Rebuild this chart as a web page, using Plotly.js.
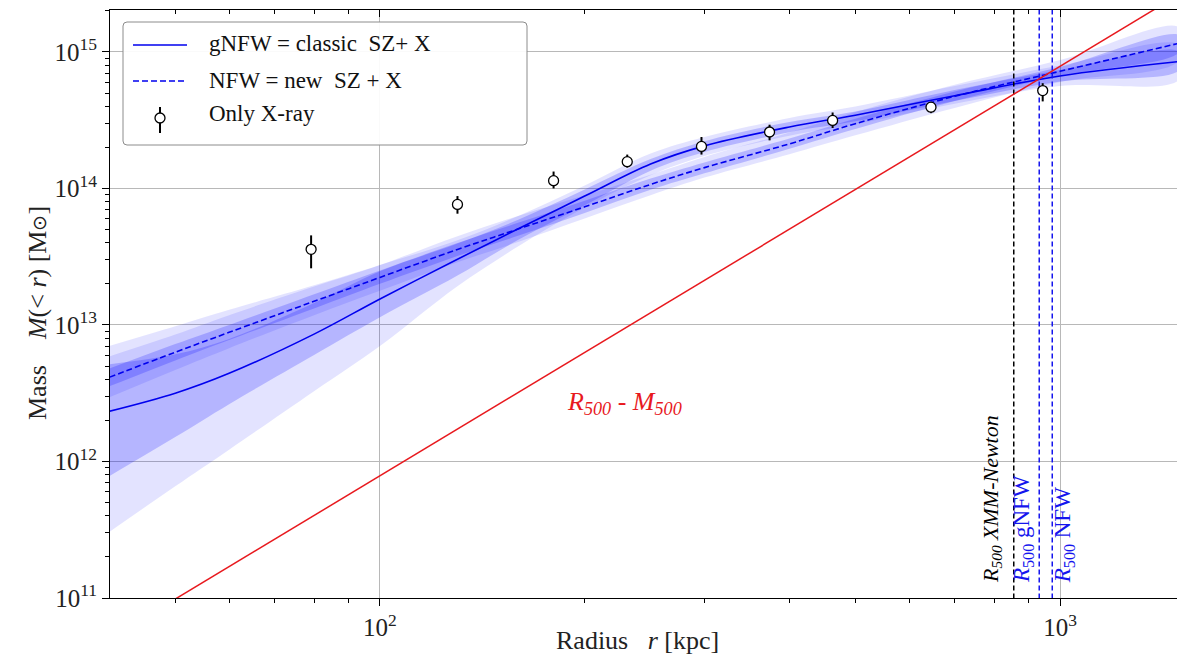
<!DOCTYPE html>
<html><head><meta charset="utf-8">
<script src="https://cdn.plot.ly/plotly-3.0.1.min.js"></script>
<style>html,body{margin:0;padding:0;background:#fff}#chart{width:1177px;height:658px}</style>
</head><body><div id="chart"></div>
<script>
// radius grid [kpc]
const radius = [40, 50, 60, 80, 100, 130, 160, 200, 250, 300, 400, 500, 700, 1000, 1500];

// gNFW (classic SZ + X) mass profile [Msun]
const gnfwMass    = [2.33e12, 3.16e12, 4.42e12, 8.57e12, 1.55e13, 3.03e13, 5.08e13, 8.79e13, 1.51e14, 2.05e14, 2.82e14, 3.44e14, 4.78e14, 6.67e14, 8.51e14];
const gnfwUp68    = [5.15e12, 6.10e12, 7.90e12, 1.45e13, 2.47e13, 3.95e13, 5.92e13, 9.82e13, 1.64e14, 2.22e14, 3.06e14, 3.66e14, 5.25e14, 7.38e14, 1.00e15];
const gnfwLow68   = [7.82e11, 1.51e12, 2.63e12, 6.03e12, 1.14e13, 2.30e13, 4.23e13, 7.53e13, 1.35e14, 1.85e14, 2.58e14, 3.10e14, 4.37e14, 6.07e14, 7.38e14];
const gnfwUp95    = [7.01e12, 9.77e12, 1.29e13, 1.95e13, 2.75e13, 4.17e13, 6.31e13, 1.05e14, 1.80e14, 2.38e14, 3.28e14, 3.98e14, 5.62e14, 7.94e14, 1.12e15];
const gnfwLow95   = [3.05e11, 6.58e11, 1.22e12, 3.27e12, 7.01e12, 1.92e13, 3.78e13, 7.24e13, 1.25e14, 1.73e14, 2.43e14, 2.95e14, 4.17e14, 5.62e14, 6.31e14];

// NFW (new SZ + X) mass profile [Msun]
const nfwMass     = [4.14e12, 6.31e12, 8.83e12, 1.49e13, 2.23e13, 3.57e13, 5.06e13, 7.33e13, 1.07e14, 1.42e14, 2.12e14, 2.98e14, 4.73e14, 7.21e14, 1.16e15];
const nfwUp68     = [4.79e12, 7.24e12, 1.00e13, 1.68e13, 2.51e13, 3.98e13, 5.62e13, 8.13e13, 1.18e14, 1.55e14, 2.32e14, 3.24e14, 5.13e14, 7.76e14, 1.32e15];
const nfwLow68    = [3.55e12, 5.50e12, 7.76e12, 1.32e13, 2.00e13, 3.20e13, 4.52e13, 6.61e13, 9.77e13, 1.29e14, 1.95e14, 2.72e14, 4.37e14, 6.68e14, 1.00e15];
const nfwUp95     = [5.89e12, 8.51e12, 1.18e13, 1.91e13, 2.75e13, 4.47e13, 6.31e13, 8.91e13, 1.26e14, 1.70e14, 2.57e14, 3.63e14, 5.75e14, 8.71e14, 1.51e15];
const nfwLow95    = [2.95e12, 4.68e12, 6.76e12, 1.18e13, 1.78e13, 2.88e13, 4.07e13, 6.03e13, 8.91e13, 1.20e14, 1.78e14, 2.45e14, 3.89e14, 6.03e14, 8.71e14];

// Only X-ray points
const xrayRadius   = [79.2, 130, 180, 231, 297, 374, 463, 646, 943];
const xrayMass     = [3.58e13, 7.64e13, 1.14e14, 1.57e14, 2.03e14, 2.59e14, 3.15e14, 3.94e14, 5.21e14];
const xrayErrPlus  = [0.95e13, 1.15e13, 0.19e14, 0.20e14, 0.35e14, 0.34e14, 0.45e14, 0.28e14, 0.69e14];
const xrayErrMinus = [0.98e13, 1.11e13, 0.14e14, 0.15e14, 0.26e14, 0.34e14, 0.38e14, 0.38e14, 0.87e14];

// R500 - M500 relation (red line)
const relRadius = [40, 1500];
const relMass   = [5.03e10, 2.65e15];

// R500 markers [kpc]
const r500Xmm  = 855;
const r500Gnfw = 932;
const r500Nfw  = 974;

// tick labels
const xTickVals = [100, 1000];
const xTickText = ['10<sup>2</sup>', '10<sup>3</sup>'];
const yTickVals = [1e11, 1e12, 1e13, 1e14, 1e15];
const yTickText = ['10<sup>11</sup>', '10<sup>12</sup>', '10<sup>13</sup>', '10<sup>14</sup>', '10<sup>15</sup>'];

// legend labels
const legendLabels = ['gNFW = classic&nbsp;&nbsp;SZ+ X', 'NFW = new&nbsp;&nbsp;SZ + X', 'Only X-ray'];

const SERIF = 'Liberation Serif, Times New Roman, serif';
const BLUE = '#0000ee';
const VBLUE = '#1515ee';
const RED = '#e8191e';

// plot area in pixels: x 110..1177, y 10..598
const px2x = px => (px - 110) / 1067;
const py2y = py => (598 - py) / 588;

function band(up, low, color) {
  return {
    x: radius.concat(radius.slice().reverse()),
    y: up.concat(low.slice().reverse()),
    type: 'scatter', mode: 'lines', fill: 'toself', fillcolor: color,
    line: {width: 0, shape: 'spline', smoothing: 1}, showlegend: false, hoverinfo: 'skip'
  };
}
function vline(xv, color) {
  return {x: [xv, xv], y: [1e10, 1e16], type: 'scatter', mode: 'lines',
    line: {color: color, width: 1.5, dash: '5px,3px'}, showlegend: false, hoverinfo: 'skip'};
}

const traces = [
  band(gnfwUp95, gnfwLow95, 'rgba(0,0,255,0.11)'),
  band(gnfwUp68, gnfwLow68, 'rgba(0,0,255,0.2)'),
  band(nfwUp95, nfwLow95, 'rgba(0,0,255,0.11)'),
  band(nfwUp68, nfwLow68, 'rgba(0,0,255,0.2)'),
  {x: radius, y: gnfwMass, type: 'scatter', mode: 'lines', name: 'gNFW',
   line: {color: BLUE, width: 1.6, shape: 'spline', smoothing: 1}},
  {x: radius, y: nfwMass, type: 'scatter', mode: 'lines', name: 'NFW',
   line: {color: BLUE, width: 1.6, dash: '6px,3px', shape: 'spline', smoothing: 1}},
  vline(r500Xmm, '#000000'),
  vline(r500Gnfw, VBLUE),
  vline(r500Nfw, VBLUE),
  {x: relRadius, y: relMass, type: 'scatter', mode: 'lines', line: {color: RED, width: 1.5}},
  {x: xrayRadius, y: xrayMass, type: 'scatter', mode: 'markers', name: 'Only X-ray',
   marker: {symbol: 'circle', size: 10, color: '#ffffff', line: {color: '#000000', width: 1.3}},
   error_y: {type: 'data', symmetric: false, array: xrayErrPlus, arrayminus: xrayErrMinus,
             color: '#000000', thickness: 2, width: 0}},
  {x: [], y: [], xaxis: 'x2', yaxis: 'y', type: 'scatter', hoverinfo: 'skip'}
];

const xRange = [1.603, 3.172];
const yRange = [11, 15.307];

// manual legend (box with rounded corners, samples, labels)
const L = px2x(123), R = px2x(527), T = py2y(22), B = py2y(145);
const rx = 4 / 1067, ry = 4 / 588;
const boxPath = `M ${L+rx},${T} L ${R-rx},${T} Q ${R},${T} ${R},${T-ry} L ${R},${B+ry} Q ${R},${B} ${R-rx},${B} ` +
                `L ${L+rx},${B} Q ${L},${B} ${L},${B+ry} L ${L},${T-ry} Q ${L},${T} ${L+rx},${T} Z`;

const shapes = [
  {type: 'path', xref: 'paper', yref: 'paper', path: boxPath, fillcolor: 'rgba(255,255,255,0.92)',
   line: {color: '#8c8c8c', width: 1}, layer: 'above'},
  {type: 'line', xref: 'paper', yref: 'paper', x0: px2x(133), x1: px2x(187), y0: py2y(45), y1: py2y(45),
   line: {color: BLUE, width: 1.6}, layer: 'above'},
  {type: 'line', xref: 'paper', yref: 'paper', x0: px2x(133), x1: px2x(187), y0: py2y(81), y1: py2y(81),
   line: {color: BLUE, width: 1.6, dash: '6px,3px'}, layer: 'above'},
  {type: 'line', xref: 'paper', yref: 'paper', x0: px2x(160), x1: px2x(160), y0: py2y(107), y1: py2y(133),
   line: {color: '#000', width: 2}, layer: 'above'},
  {type: 'circle', xref: 'paper', yref: 'paper', x0: px2x(155), x1: px2x(165), y0: py2y(123), y1: py2y(113),
   fillcolor: '#fff', line: {color: '#000', width: 1.3}, layer: 'above'}
];

const legendAnn = [44, 81, 114].map((py, i) => ({
  x: px2x(207), y: py2y(py), xref: 'paper', yref: 'paper', xanchor: 'left', yanchor: 'middle',
  showarrow: false, text: legendLabels[i], font: {family: SERIF, size: 23, color: '#111'}
}));

const layout = {
  width: 1177, height: 658,
  margin: {l: 110, r: 0, t: 10, b: 60},
  paper_bgcolor: '#ffffff', plot_bgcolor: '#ffffff',
  font: {family: SERIF, size: 20, color: '#222'},
  showlegend: false,
  xaxis: {type: 'log', range: xRange, tickvals: xTickVals, ticktext: xTickText,
          ticks: 'outside', ticklen: 7, tickcolor: '#000', showline: true, linecolor: '#000', linewidth: 1,
          showgrid: true, gridcolor: '#b8b8b8', gridwidth: 1, zeroline: false,
          tickfont: {family: SERIF, size: 25, color: '#222'},
          minor: {dtick: 'D1', ticks: 'outside', ticklen: 4, tickcolor: '#000', showgrid: false}},
  xaxis2: {type: 'log', range: xRange, overlaying: 'x', anchor: 'y', side: 'top',
           tickvals: xTickVals, showticklabels: false, ticks: 'inside', ticklen: 7, tickcolor: '#000',
           showline: true, linecolor: '#000', linewidth: 1, showgrid: false, zeroline: false,
           minor: {dtick: 'D1', ticks: 'inside', ticklen: 4, tickcolor: '#000', showgrid: false}},
  yaxis: {type: 'log', range: yRange, tickvals: yTickVals, ticktext: yTickText,
          ticks: 'outside', ticklen: 7, tickcolor: '#000', showline: true, linecolor: '#000', linewidth: 1,
          showgrid: true, gridcolor: '#b8b8b8', gridwidth: 1, zeroline: false,
          tickfont: {family: SERIF, size: 25, color: '#222'},
          minor: {dtick: 'D1', ticks: 'outside', ticklen: 4, tickcolor: '#000', showgrid: false}},
  shapes: shapes,
  annotations: [
    {x: px2x(637), y: py2y(640), xref: 'paper', yref: 'paper', xanchor: 'center', yanchor: 'middle',
     showarrow: false, text: 'Radius&nbsp;&nbsp;&nbsp;<i>r</i> [kpc]', font: {family: SERIF, size: 26, color: '#222'}},
    {x: px2x(37), y: py2y(313), xref: 'paper', yref: 'paper', xanchor: 'center', yanchor: 'middle',
     showarrow: false, textangle: -90,
     text: 'Mass&nbsp;&nbsp;&nbsp;&nbsp;<i>M</i>(&lt; <i>r</i>) [M<span style="font-size:19px">⊙</span>]',
     font: {family: SERIF, size: 26, color: '#222'}},
    {x: 2.359, y: 12.43, xref: 'x', yref: 'y', showarrow: false,
     text: '<i>R<sub>500</sub> - M<sub>500</sub></i>', font: {family: SERIF, size: 26, color: RED}},
    {x: Math.log10(794), y: 0.022, xref: 'x', yref: 'paper', xanchor: 'center', yanchor: 'bottom',
     showarrow: false, textangle: -90,
     text: '<i>R<sub>500</sub> XMM-Newton</i>', font: {family: SERIF, size: 22, color: '#000'}},
    {x: Math.log10(882), y: 0.022, xref: 'x', yref: 'paper', xanchor: 'center', yanchor: 'bottom',
     showarrow: false, textangle: -90,
     text: '<i>R</i><sub>500</sub> gNFW', font: {family: SERIF, size: 23, color: VBLUE}},
    {x: Math.log10(1014), y: 0.022, xref: 'x', yref: 'paper', xanchor: 'center', yanchor: 'bottom',
     showarrow: false, textangle: -90,
     text: '<i>R</i><sub>500</sub> NFW', font: {family: SERIF, size: 23, color: VBLUE}}
  ].concat(legendAnn)
};

Plotly.newPlot('chart', traces, layout, {displayModeBar: false, staticPlot: true});
</script>
</body></html>
